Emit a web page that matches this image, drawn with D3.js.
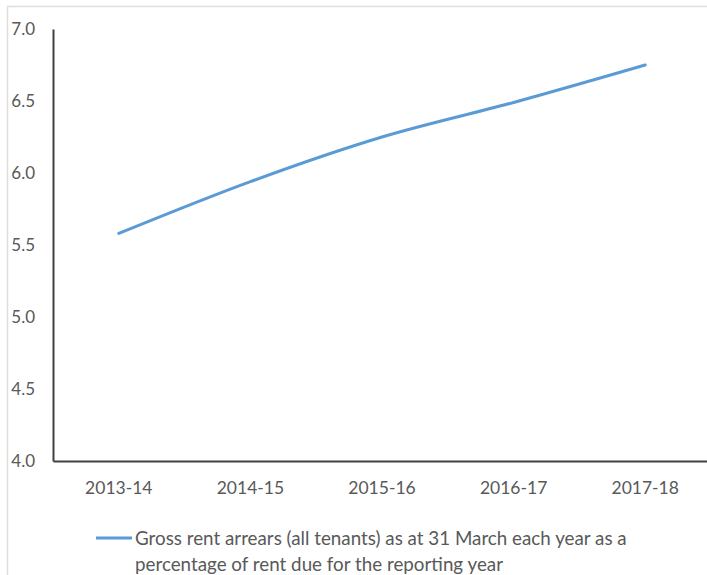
<!DOCTYPE html>
<html>
<head>
<meta charset="utf-8">
<script src="https://cdn.jsdelivr.net/npm/d3@7"></script>
<style>
  html, body { margin: 0; padding: 0; background: #fff; }
  svg { display: block; }
  text { font-family: Lato, "Open Sans", sans-serif; fill: #595959; }
</style>
</head>
<body>
<svg id="chart" width="707" height="575"></svg>
<script>
// Reporting years on the category axis
const years = ["2013-14", "2014-15", "2015-16", "2016-17", "2017-18"];
// Gross rent arrears as % of rent due
const arrears = [5.58, 5.94, 6.25, 6.49, 6.75];
// Value axis ticks
const yTicks = [4.0, 4.5, 5.0, 5.5, 6.0, 6.5, 7.0];
const legendLines = [
  "Gross rent arrears (all tenants) as at 31 March each year as a",
  "percentage of rent due for the reporting year"
];

const svg = d3.select("#chart");
const W = 707, H = 575;
const plot = { left: 53, right: 711, top: 29, bottom: 461 };

svg.append("rect").attr("width", W).attr("height", H).attr("fill", "#fff");

// thin frame along the top and left edges
svg.append("path")
  .attr("d", `M${W},6.5 H7.5 V${H}`)
  .attr("fill", "none")
  .attr("stroke", "#dedede")
  .attr("stroke-width", 1.5);

const x = d3.scaleBand().domain(years).range([plot.left, plot.right]).padding(0);
const y = d3.scaleLinear().domain([4, 7]).range([plot.bottom, plot.top]);

// y axis
const yAxis = svg.append("g")
  .attr("transform", `translate(${plot.left},0)`)
  .call(d3.axisLeft(y).tickValues(yTicks).tickFormat(d3.format(".1f"))
    .tickSize(0).tickPadding(18));
yAxis.select(".domain").attr("stroke", "#404040").attr("stroke-width", 2);
yAxis.selectAll("text").attr("font-size", 17).attr("fill", "#595959")
  .attr("font-family", "Lato, sans-serif");

// x axis
const xAxis = svg.append("g")
  .attr("transform", `translate(0,${plot.bottom})`)
  .call(d3.axisBottom(x).tickSize(0).tickPadding(0).tickSizeOuter(0));
xAxis.select(".domain").attr("stroke", "#404040").attr("stroke-width", 2);
xAxis.selectAll("text").attr("font-size", 17.5).attr("fill", "#595959")
  .attr("font-family", "Lato, sans-serif")
  .attr("y", 27).attr("dy", "0.35em");

// series line
const line = d3.line()
  .x((d, i) => x(years[i]) + x.bandwidth() / 2)
  .y(d => y(d))
  .curve(d3.curveMonotoneX);

svg.append("path")
  .datum(arrears)
  .attr("d", line)
  .attr("fill", "none")
  .attr("stroke", "#5B9BD5")
  .attr("stroke-width", 3)
  .attr("stroke-linecap", "round");

// legend
const lg = svg.append("g");
lg.append("line")
  .attr("x1", 96).attr("x2", 132).attr("y1", 538).attr("y2", 538)
  .attr("stroke", "#5B9BD5").attr("stroke-width", 3);
lg.selectAll("text.leg")
  .data(legendLines)
  .join("text")
  .attr("class", "leg")
  .attr("x", 135)
  .attr("y", (d, i) => 538 + i * 26)
  .attr("dy", "0.35em")
  .attr("font-size", 18.8)
  .attr("fill", "#505050")
  .text(d => d);
</script>
</body>
</html>
